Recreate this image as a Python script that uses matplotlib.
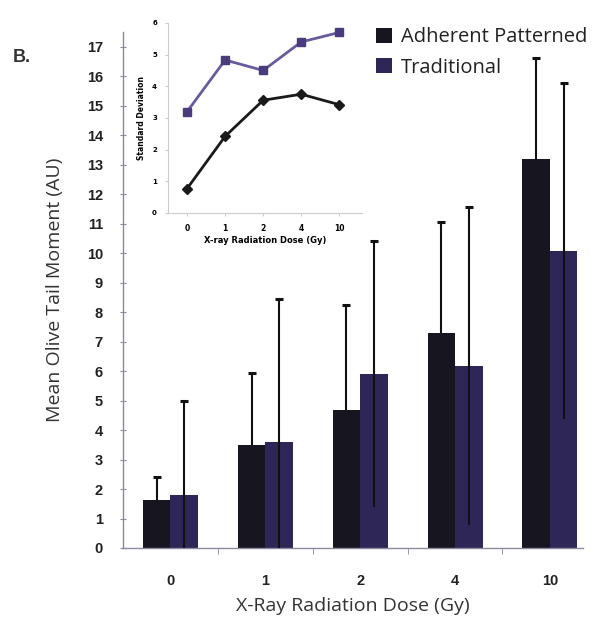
import matplotlib
matplotlib.use("Agg")
import matplotlib.pyplot as plt
import numpy as np

# data
doses = ["0", "1", "2", "4", "10"]
adherent_mean = [1.63, 3.5, 4.68, 7.29, 13.2]
traditional_mean = [1.8, 3.6, 5.9, 6.17, 10.07]
adherent_sd = [0.77, 2.42, 3.56, 3.75, 3.42]
traditional_sd = [3.2, 4.83, 4.5, 5.4, 5.7]
main_yticks = list(range(0, 18))
inset_yticks = list(range(0, 7))

dark = "#17151f"
purple = "#2d2656"
spine_col = "#8a8aa0"

fig = plt.figure(figsize=(5.96, 6.24), dpi=100)

# main bar chart
ax = fig.add_axes([0.2064, 0.1218, 0.772, 0.827])
x = np.arange(len(doses))
w = 0.29
ax.bar(x - w / 2, adherent_mean, w, color=dark, label="Adherent Patterned", zorder=2)
ax.bar(x + w / 2, traditional_mean, w, color=purple, label="Traditional", zorder=2)
# dark bars hide the lower whisker, purple ones let it show
eb1 = ax.errorbar(x - w / 2, adherent_mean, yerr=adherent_sd, fmt="none", ecolor="#111111",
                  elinewidth=1.5, capsize=3, capthick=2.2, zorder=1)
eb2 = ax.errorbar(x + w / 2, traditional_mean, yerr=traditional_sd, fmt="none", ecolor="#111111",
                  elinewidth=1.5, capsize=3, capthick=2.2, zorder=3)
for eb in (eb1, eb2):
    eb[1][0].set_visible(False)

ax.set_xlim(-0.5, 4.35)
ax.set_ylim(0, 17.5)
ax.set_yticks(main_yticks)
ax.set_yticklabels([str(t) for t in main_yticks], fontsize=10.5, fontweight="bold",
                   family="Liberation Sans", color="#222222")
ax.set_xticks(x)
ax.set_xticklabels(doses, fontsize=10.5, fontweight="bold", family="Liberation Sans",
                   color="#222222")
ax.tick_params(axis="x", length=0, pad=19)
ax.set_xticks(x[:-1] + 0.5, minor=True)
ax.tick_params(axis="x", which="minor", length=4, direction="out", color=spine_col)
ax.tick_params(axis="y", length=5, direction="inout", color=spine_col, pad=12)
for s in ["top", "right"]:
    ax.spines[s].set_visible(False)
for s in ["left", "bottom"]:
    ax.spines[s].set_color(spine_col)
    ax.spines[s].set_linewidth(1)

ax.set_ylabel("Mean Olive Tail Moment (AU)", fontsize=14, family="Open Sans", labelpad=16,
              color="#333333")
ax.set_xlabel("X-Ray Radiation Dose (Gy)", fontsize=14, family="Open Sans", labelpad=6,
              color="#333333")

leg = fig.legend(loc="upper left", bbox_to_anchor=(0.6, 0.985), frameon=False,
                 prop={"family": "Open Sans", "size": 14.5}, handlelength=0.8, handleheight=0.8,
                 handletextpad=0.45, labelspacing=0.5)
for t in leg.get_texts():
    t.set_color("#222222")

fig.text(0.022, 0.9, "B.", fontsize=13, fontweight="bold", family="Liberation Sans",
         color="#333333")

# inset standard deviation chart
ins = fig.add_axes([0.282, 0.6587, 0.3255, 0.3045])
ins.plot(x, traditional_sd, color="#6a5a9e", lw=2, marker="s", ms=6, mfc="#4a3a7e",
         mec="#4a3a7e")
ins.plot(x, adherent_sd, color="#1a1a1a", lw=2, marker="D", ms=5, mfc="#1a1a1a",
         mec="#1a1a1a")
ins.set_xlim(-0.5, 4.6)
ins.set_ylim(0, 6)
ins.set_yticks(inset_yticks)
ins.set_yticklabels([str(t) for t in inset_yticks], fontsize=5, fontweight="bold")
ins.set_xticks(x)
ins.set_xticklabels(doses, fontsize=5.5, fontweight="bold")
ins.tick_params(axis="both", length=2, color="#cccccc", pad=6)
for s in ["top", "right"]:
    ins.spines[s].set_visible(False)
for s in ["left", "bottom"]:
    ins.spines[s].set_color("#cccccc")
    ins.spines[s].set_linewidth(0.8)
ins.set_ylabel("Standard Deviation", fontsize=5.5, fontweight="bold", labelpad=4)
ins.set_xlabel("X-ray Radiation Dose (Gy)", fontsize=6, fontweight="bold", labelpad=2)
ins.patch.set_alpha(0)

fig.savefig("out.png", dpi=100)
